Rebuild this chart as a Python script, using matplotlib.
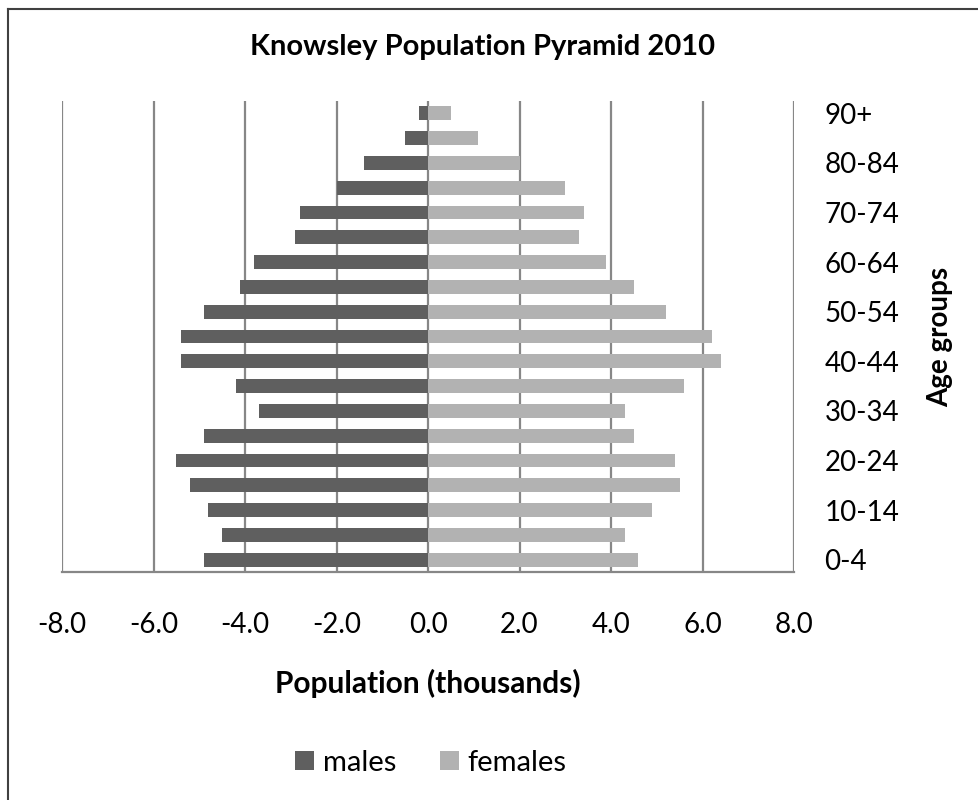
import numpy as np
import matplotlib
matplotlib.use("Agg")
import matplotlib.pyplot as plt
from matplotlib.lines import Line2D

# Knowsley population by five-year age group, 2010 (thousands)
age_groups = ["0-4", "5-9", "10-14", "15-19", "20-24", "25-29", "30-34",
              "35-39", "40-44", "45-49", "50-54", "55-59", "60-64",
              "65-69", "70-74", "75-79", "80-84", "85-89", "90+"]
males = [-4.9, -4.5, -4.8, -5.2, -5.5, -4.9, -3.7, -4.2, -5.4, -5.4,
         -4.9, -4.1, -3.8, -2.9, -2.8, -2.0, -1.4, -0.5, -0.2]
females = [4.6, 4.3, 4.9, 5.5, 5.4, 4.5, 4.3, 5.6, 6.4, 6.2,
           5.2, 4.5, 3.9, 3.3, 3.4, 3.0, 2.0, 1.1, 0.5]
x_ticks = [-8, -6, -4, -2, 0, 2, 4, 6, 8]

plt.rcParams['font.family'] = ['Lato', 'DejaVu Sans']

fig = plt.figure(figsize=(9.79, 8), dpi=100)
ax = fig.add_axes([62 / 979, 1 - 572 / 800, (794 - 62) / 979, (572 - 101) / 800])

y = np.arange(len(age_groups))
grid_col = "#878787"

for xv in x_ticks:
    ax.axvline(xv, color=grid_col, lw=1.6, zorder=0)

ax.barh(y, males, height=0.56, color="#5f5f5f", label="males", zorder=2)
ax.barh(y, females, height=0.56, color="#b2b2b2", label="females", zorder=2)

ax.set_xlim(-8, 8)
ax.set_ylim(-0.5, len(age_groups) - 0.5)
ax.set_xticks(x_ticks)
ax.set_xticklabels(["%.1f" % v for v in x_ticks], fontsize=20)
ax.set_yticks(y[::2])
ax.set_yticklabels(age_groups[::2], fontsize=20)
ax.yaxis.tick_right()
ax.yaxis.set_label_position("right")
ax.tick_params(axis="both", length=0)
ax.tick_params(axis="y", pad=22)
ax.tick_params(axis="x", pad=29)

for side in ["top", "left", "right"]:
    ax.spines[side].set_visible(False)
ax.spines["bottom"].set_color(grid_col)
ax.spines["bottom"].set_linewidth(1.6)

ax.set_xlabel("Population (thousands)", fontsize=21.5, fontweight="bold", labelpad=22)
ax.set_ylabel("Age groups", fontsize=20, fontweight="bold", labelpad=20)

fig.text(483 / 979, 1 - 47 / 800, "Knowsley Population Pyramid 2010",
         ha="center", va="center", fontsize=21, fontweight="bold")

handles, labels = ax.get_legend_handles_labels()
fig.legend(handles, labels, loc="center", bbox_to_anchor=(431 / 979, 1 - 763 / 800),
           ncol=2, frameon=False, fontsize=21, handlelength=0.65, handleheight=0.65,
           handletextpad=0.3, columnspacing=1.5)

# outer chart border
fig.add_artist(Line2D([8 / 979, 8 / 979], [0, 1 - 9 / 800], color="#404040", lw=1.5))
fig.add_artist(Line2D([8 / 979, 1], [1 - 9 / 800, 1 - 9 / 800], color="#404040", lw=1.5))

fig.savefig("out.png", dpi=100)
